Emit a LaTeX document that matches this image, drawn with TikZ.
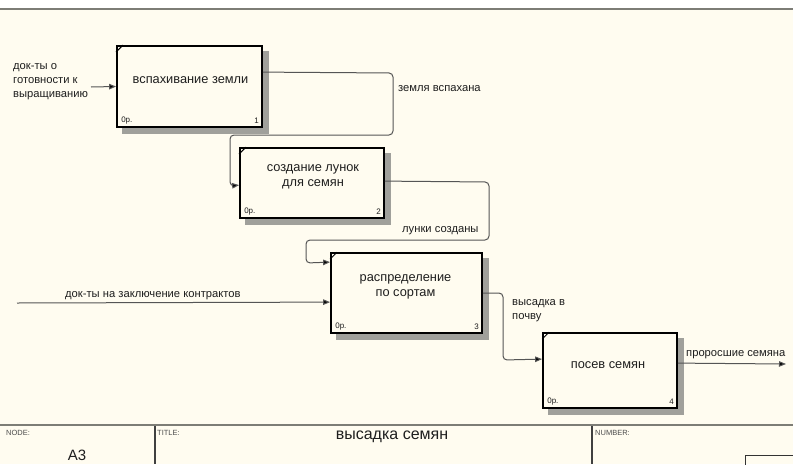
\documentclass[tikz,border=0pt]{standalone}
\usepackage{fontspec}
\setmainfont{Liberation Sans}
\usetikzlibrary{calc,arrows.meta}
\pgfdeclarelayer{back}
\pgfdeclarelayer{shade}
\pgfsetlayers{back,shade,main}
\definecolor{bgc}{RGB}{255,252,240}
\definecolor{framegray}{RGB}{125,125,118}
\definecolor{conncol}{RGB}{85,85,85}
\definecolor{txtc}{RGB}{30,30,30}
\definecolor{shadec}{RGB}{160,160,155}
\begin{document}
\begin{tikzpicture}[x=1pt,y=-1pt,
  box/.style={draw=black,line width=1.8pt,fill=bgc,rectangle,inner sep=0pt},
  boxtext/.style={font=\fontsize{12.8}{15}\selectfont,text=txtc,align=center},
  conn/.style={draw=conncol,line width=1pt,rounded corners=4pt,
    -{Triangle[length=7pt,width=5.5pt,fill=black]}},
  albl/.style={font=\fontsize{11.2}{13.8}\selectfont,text=txtc,align=left,anchor=west,inner sep=0pt},
  small/.style={font=\fontsize{8}{9}\selectfont,text=txtc,inner sep=0pt},
  tiny/.style={font=\fontsize{7.5}{9}\selectfont,text=txtc!80,inner sep=0pt,anchor=west},
  shadow/.style={fill=shadec}
]
\useasboundingbox (0,0) rectangle (793,464);
\begin{pgfonlayer}{back}
\fill[bgc] (0,0) rectangle (793,464);
\fill[white] (0,0) rectangle (793,8);
\end{pgfonlayer}
\draw[framegray,line width=2pt] (0,8.5) -- (793,8.5);

% boxes
\node[box,minimum width=145pt,minimum height=81pt] (b1) at (189.5,86.5) {};
\node[box,minimum width=144pt,minimum height=70pt] (b2) at (312,183) {};
\node[box,minimum width=151pt,minimum height=80pt] (b3) at (406.5,293) {};
\node[box,minimum width=134pt,minimum height=75pt] (b4) at (610,370.5) {};

% shadows
\begin{pgfonlayer}{shade}
\foreach \b in {b1,b2,b3,b4}{
  \fill[shadow] ($(\b.north west)+(6,6)$) rectangle ($(\b.south east)+(6,6)$);
}
\end{pgfonlayer}

% box texts
\node[boxtext] (t1) at ($(b1.center)+(1,-6)$) {вспахивание земли};
\node[boxtext] (t2) at ($(b2.center)+(1,-6.5)$) {создание лунок\\для семян};
\node[boxtext] (t3) at ($(b3.center)+(-1,-6.5)$) {распределение\\по сортам};
\node[boxtext] (t4) at ($(b4.center)+(-2,-5.5)$) {посев семян};

% corner marks, 0p. and numbers
\foreach \b/\n in {b1/1,b2/2,b3/3,b4/4}{
  \draw[black,line width=1pt] ($(\b.north west)+(0,7)$) -- ($(\b.north west)+(7,0)$);
  \node[small,anchor=west] (op\n) at ($(\b.south west)+(5,-7)$) {0р.};
  \node[small,anchor=east] (num\n) at ($(\b.south east)+(-4,-7)$) {\n};
}

% connectors
\coordinate (in1) at (91,87);
\draw[conn] (in1) -- (b1.west);
\node[albl] (l1) at (13,81.5) {док-ты о\\готовности к\\выращиванию};

\draw[conn] ($(b1.north east)+(0,27)$) -- (393,73) -- (393,135) -- (230,135) -- (230,186) -- ($(b2.north west)+(0,38)$);
\node[albl] (l2) at (398,89) {земля вспахана};

\draw[conn] ($(b2.north east)+(0,34)$) -- (489,182) -- (489,240) -- (306,240) -- (306,263) -- ($(b3.north west)+(0,10)$);
\node[albl] (l3) at (402,231) {лунки созданы};

\coordinate (in2) at (17,303);
\draw[conn] (in2) -- ($(b3.north west)+(0,50)$);
\node[albl] (l4) at (65,296) {док-ты на заключение контрактов};

\draw[conn] (b3.east) -- (503,293) -- (503,360) -- ($(b4.north west)+(0,27)$);
\node[albl] (l5) at (512,311) {высадка в\\почву};

\coordinate (out1) at (786,364);
\draw[conn] ($(b4.north east)+(0,31)$) -- (out1);
\node[albl] (l6) at (686,355) {проросшие семяна};

% frame at bottom
\draw[framegray,line width=2pt] (0,425) -- (793,425);
\draw[black!75,line width=1.2pt] (155,426) -- (155,464);
\draw[black!75,line width=1.2pt] (592,426) -- (592,464);
\draw[black!80,line width=1pt] (745,464.5) -- (745,455) -- (794,455);
\node[tiny] (fnode) at (6,433) {NODE:};
\node[font=\fontsize{15}{17}\selectfont,text=txtc,inner sep=0pt] (fa3) at (77,455) {A3};
\node[tiny] (ftitle) at (157,433) {TITLE:};
\node[font=\fontsize{16}{18}\selectfont,text=txtc,inner sep=0pt] (ftext) at (392,437) {высадка семян};
\node[tiny] (fnum) at (595,433) {NUMBER:};
\end{tikzpicture}
\end{document}
